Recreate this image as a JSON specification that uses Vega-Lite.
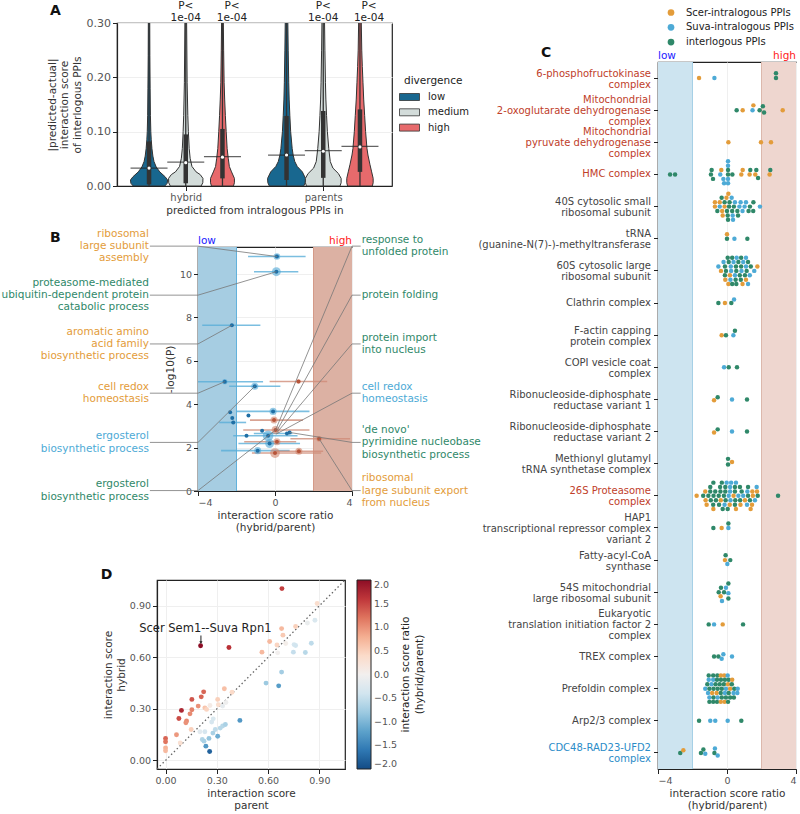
{
"$schema": "https://vega.github.io/schema/vega-lite/v6.json",
"background": "white",
"padding": {"left": 0, "top": 0, "right": 0, "bottom": 0},
"config": {
  "font": "DejaVu Sans",
  "view": {"stroke": "#222", "strokeWidth": 1.2},
  "axis": {"domainColor": "#222", "domainWidth": 1.2, "tickColor": "#222", "tickSize": 4.5, "labelColor": "#555", "labelFont": "DejaVu Sans", "labelFontSize": 9.5, "titleFont": "DejaVu Sans", "titleFontSize": 10.5, "titleFontWeight": "normal", "titleColor": "#333", "gridColor": "#efefef", "labelPadding": 2, "titlePadding": 3},
  "legend": {"labelFont": "DejaVu Sans", "titleFont": "DejaVu Sans", "titleFontWeight": "normal", "labelColor": "#222", "titleColor": "#222", "padding": 0},
  "text": {"font": "DejaVu Sans"}
},
"datasets": {
  "violin": [
    {"k":"HL","d":"low","v":0,"x1":-0.382,"x2":-0.152},{"k":"HL","d":"low","v":0.005,"x1":-0.399,"x2":-0.135},{"k":"HL","d":"low","v":0.011,"x1":-0.402,"x2":-0.132},{"k":"HL","d":"low","v":0.017,"x1":-0.384,"x2":-0.150},{"k":"HL","d":"low","v":0.026,"x1":-0.345,"x2":-0.189},{"k":"HL","d":"low","v":0.035,"x1":-0.319,"x2":-0.215},{"k":"HL","d":"low","v":0.045,"x1":-0.303,"x2":-0.231},{"k":"HL","d":"low","v":0.055,"x1":-0.295,"x2":-0.239},{"k":"HL","d":"low","v":0.069,"x1":-0.288,"x2":-0.246},{"k":"HL","d":"low","v":0.085,"x1":-0.283,"x2":-0.251},{"k":"HL","d":"low","v":0.1,"x1":-0.280,"x2":-0.254},{"k":"HL","d":"low","v":0.13,"x1":-0.277,"x2":-0.257},{"k":"HL","d":"low","v":0.18,"x1":-0.275,"x2":-0.259},{"k":"HL","d":"low","v":0.24,"x1":-0.273,"x2":-0.261},{"k":"HL","d":"low","v":0.31,"x1":-0.272,"x2":-0.262},
    {"k":"HM","d":"medium","v":0,"x1":-0.112,"x2":0.112},{"k":"HM","d":"medium","v":0.006,"x1":-0.124,"x2":0.124},{"k":"HM","d":"medium","v":0.014,"x1":-0.125,"x2":0.125},{"k":"HM","d":"medium","v":0.021,"x1":-0.105,"x2":0.105},{"k":"HM","d":"medium","v":0.026,"x1":-0.075,"x2":0.075},{"k":"HM","d":"medium","v":0.036,"x1":-0.045,"x2":0.045},{"k":"HM","d":"medium","v":0.051,"x1":-0.032,"x2":0.032},{"k":"HM","d":"medium","v":0.069,"x1":-0.025,"x2":0.025},{"k":"HM","d":"medium","v":0.1,"x1":-0.019,"x2":0.019},{"k":"HM","d":"medium","v":0.13,"x1":-0.015,"x2":0.015},{"k":"HM","d":"medium","v":0.19,"x1":-0.010,"x2":0.010},{"k":"HM","d":"medium","v":0.31,"x1":-0.006,"x2":0.006},
    {"k":"HH","d":"high","v":0,"x1":0.187,"x2":0.347},{"k":"HH","d":"high","v":0.006,"x1":0.180,"x2":0.354},{"k":"HH","d":"high","v":0.014,"x1":0.180,"x2":0.354},{"k":"HH","d":"high","v":0.026,"x1":0.201,"x2":0.333},{"k":"HH","d":"high","v":0.036,"x1":0.217,"x2":0.317},{"k":"HH","d":"high","v":0.051,"x1":0.225,"x2":0.309},{"k":"HH","d":"high","v":0.069,"x1":0.233,"x2":0.301},{"k":"HH","d":"high","v":0.1,"x1":0.240,"x2":0.294},{"k":"HH","d":"high","v":0.13,"x1":0.246,"x2":0.288},{"k":"HH","d":"high","v":0.16,"x1":0.251,"x2":0.283},{"k":"HH","d":"high","v":0.19,"x1":0.255,"x2":0.279},{"k":"HH","d":"high","v":0.25,"x1":0.2585,"x2":0.2755},{"k":"HH","d":"high","v":0.31,"x1":0.261,"x2":0.273},
    {"k":"PL","d":"low","v":0,"x1":0.608,"x2":0.858},{"k":"PL","d":"low","v":0.006,"x1":0.597,"x2":0.869},{"k":"PL","d":"low","v":0.014,"x1":0.595,"x2":0.871},{"k":"PL","d":"low","v":0.026,"x1":0.618,"x2":0.848},{"k":"PL","d":"low","v":0.036,"x1":0.655,"x2":0.811},{"k":"PL","d":"low","v":0.045,"x1":0.673,"x2":0.793},{"k":"PL","d":"low","v":0.057,"x1":0.685,"x2":0.781},{"k":"PL","d":"low","v":0.069,"x1":0.692,"x2":0.774},{"k":"PL","d":"low","v":0.1,"x1":0.703,"x2":0.763},{"k":"PL","d":"low","v":0.13,"x1":0.709,"x2":0.757},{"k":"PL","d":"low","v":0.16,"x1":0.714,"x2":0.752},{"k":"PL","d":"low","v":0.19,"x1":0.717,"x2":0.749},{"k":"PL","d":"low","v":0.25,"x1":0.721,"x2":0.745},{"k":"PL","d":"low","v":0.31,"x1":0.724,"x2":0.742},
    {"k":"PM","d":"medium","v":0,"x1":0.878,"x2":1.122},{"k":"PM","d":"medium","v":0.006,"x1":0.870,"x2":1.130},{"k":"PM","d":"medium","v":0.014,"x1":0.870,"x2":1.130},{"k":"PM","d":"medium","v":0.023,"x1":0.890,"x2":1.110},{"k":"PM","d":"medium","v":0.033,"x1":0.930,"x2":1.070},{"k":"PM","d":"medium","v":0.045,"x1":0.949,"x2":1.051},{"k":"PM","d":"medium","v":0.069,"x1":0.960,"x2":1.040},{"k":"PM","d":"medium","v":0.1,"x1":0.970,"x2":1.030},{"k":"PM","d":"medium","v":0.13,"x1":0.976,"x2":1.024},{"k":"PM","d":"medium","v":0.16,"x1":0.981,"x2":1.019},{"k":"PM","d":"medium","v":0.19,"x1":0.984,"x2":1.016},{"k":"PM","d":"medium","v":0.25,"x1":0.988,"x2":1.012},{"k":"PM","d":"medium","v":0.31,"x1":0.991,"x2":1.009},
    {"k":"PH","d":"high","v":0,"x1":1.177,"x2":1.357},{"k":"PH","d":"high","v":0.006,"x1":1.171,"x2":1.363},{"k":"PH","d":"high","v":0.014,"x1":1.171,"x2":1.363},{"k":"PH","d":"high","v":0.026,"x1":1.182,"x2":1.352},{"k":"PH","d":"high","v":0.039,"x1":1.194,"x2":1.340},{"k":"PH","d":"high","v":0.057,"x1":1.209,"x2":1.325},{"k":"PH","d":"high","v":0.069,"x1":1.216,"x2":1.318},{"k":"PH","d":"high","v":0.1,"x1":1.226,"x2":1.308},{"k":"PH","d":"high","v":0.13,"x1":1.233,"x2":1.301},{"k":"PH","d":"high","v":0.16,"x1":1.240,"x2":1.294},{"k":"PH","d":"high","v":0.19,"x1":1.245,"x2":1.289},{"k":"PH","d":"high","v":0.22,"x1":1.250,"x2":1.284},{"k":"PH","d":"high","v":0.25,"x1":1.254,"x2":1.280},{"k":"PH","d":"high","v":0.31,"x1":1.258,"x2":1.276}
  ],
  "abox": [
    {"k":"HL","c":-0.267,"q1":0.003,"q3":0.082,"med":0.033,"mean":0.033},
    {"k":"HM","c":0,"q1":0.005,"q3":0.095,"med":0.043,"mean":0.044},
    {"k":"HH","c":0.267,"q1":0.014,"q3":0.105,"med":0.053,"mean":0.054},
    {"k":"PL","c":0.733,"q1":0.011,"q3":0.129,"med":0.057,"mean":0.057},
    {"k":"PM","c":1.0,"q1":0.015,"q3":0.138,"med":0.064,"mean":0.065},
    {"k":"PH","c":1.267,"q1":0.026,"q3":0.141,"med":0.072,"mean":0.073}
  ],
  "bpts": [
    {"r":0.10,"lo":-1.40,"hi":1.59,"p":10.81,"d":"low","n":14},
    {"r":0.07,"lo":-1.09,"hi":1.21,"p":10.11,"d":"low","n":25},
    {"r":-2.24,"lo":-3.78,"hi":-0.76,"p":7.64,"d":"low","n":0},
    {"r":-2.61,"lo":-4.6,"hi":-0.62,"p":5.04,"d":"low","n":9},
    {"r":-1.05,"lo":-2.38,"hi":0.28,"p":4.83,"d":"low","n":16},
    {"r":1.22,"lo":-0.28,"hi":2.71,"p":5.05,"d":"high","n":7},
    {"r":-2.33,"lo":-2.33,"hi":-2.33,"p":3.63,"d":"low","n":0},
    {"r":-0.10,"lo":-2.0,"hi":1.79,"p":3.67,"d":"low","n":16},
    {"r":-1.38,"lo":-1.38,"hi":-1.38,"p":3.48,"d":"low","n":0},
    {"r":-2.22,"lo":-2.22,"hi":-2.22,"p":3.37,"d":"low","n":0},
    {"r":-2.17,"lo":-2.9,"hi":-1.5,"p":3.16,"d":"low","n":0},
    {"r":-0.05,"lo":-1.3,"hi":1.45,"p":3.27,"d":"high","n":16},
    {"r":0.03,"lo":-1.65,"hi":1.79,"p":2.81,"d":"high","n":20},
    {"r":-0.67,"lo":-0.67,"hi":-0.67,"p":2.78,"d":"low","n":0},
    {"r":-0.36,"lo":-2.17,"hi":1.17,"p":2.55,"d":"low","n":36},
    {"r":0.62,"lo":-1.1,"hi":0.9,"p":2.65,"d":"low","n":0},
    {"r":0.76,"lo":0.76,"hi":0.76,"p":2.70,"d":"low","n":0},
    {"r":2.29,"lo":0.8,"hi":3.9,"p":2.41,"d":"high","n":10},
    {"r":0.10,"lo":-1.6,"hi":1.1,"p":2.27,"d":"high","n":16},
    {"r":-0.28,"lo":-1.9,"hi":1.3,"p":2.19,"d":"low","n":25},
    {"r":-0.90,"lo":-2.8,"hi":0.76,"p":1.86,"d":"low","n":16},
    {"r":0.0,"lo":-1.2,"hi":2.4,"p":1.75,"d":"high","n":30},
    {"r":1.24,"lo":0.07,"hi":2.5,"p":1.83,"d":"high","n":16},
    {"r":-1.48,"lo":-1.48,"hi":-1.48,"p":2.55,"d":"low","n":0}
  ],
  "blines": [
    {"id":"L1","i":0,"x":-6.5,"y":11.29},{"id":"L1","i":1,"x":-4,"y":11.29},{"id":"L1","i":2,"x":0.10,"y":10.81},
    {"id":"L2","i":0,"x":-6.5,"y":9.03},{"id":"L2","i":1,"x":-4,"y":9.03},{"id":"L2","i":2,"x":0.07,"y":10.11},
    {"id":"L3","i":0,"x":-6.5,"y":6.78},{"id":"L3","i":1,"x":-4,"y":6.78},{"id":"L3","i":2,"x":-2.24,"y":7.64},
    {"id":"L4","i":0,"x":-6.5,"y":4.51},{"id":"L4","i":1,"x":-4,"y":4.51},{"id":"L4","i":2,"x":-2.61,"y":5.04},
    {"id":"L5","i":0,"x":-6.5,"y":2.24},{"id":"L5","i":1,"x":-4,"y":2.24},{"id":"L5","i":2,"x":-1.05,"y":4.83},
    {"id":"L6","i":0,"x":-6.5,"y":0.02},{"id":"L6","i":1,"x":-4,"y":0.02},{"id":"L6","i":2,"x":0.03,"y":2.81},
    {"id":"R1","i":0,"x":4.45,"y":11.29},{"id":"R1","i":1,"x":4,"y":11.29},{"id":"R1","i":2,"x":0.03,"y":2.81},
    {"id":"R2","i":0,"x":4.45,"y":9.03},{"id":"R2","i":1,"x":4,"y":9.03},{"id":"R2","i":2,"x":0.10,"y":2.78},
    {"id":"R3","i":0,"x":4.45,"y":6.78},{"id":"R3","i":1,"x":4,"y":6.78},{"id":"R3","i":2,"x":0.10,"y":2.70},
    {"id":"R4","i":0,"x":4.45,"y":4.51},{"id":"R4","i":1,"x":4,"y":4.51},{"id":"R4","i":2,"x":0.05,"y":2.62},
    {"id":"R5","i":0,"x":4.45,"y":2.24},{"id":"R5","i":1,"x":4,"y":2.24},{"id":"R5","i":2,"x":0.76,"y":2.70},
    {"id":"R6","i":0,"x":4.45,"y":0.02},{"id":"R6","i":1,"x":4,"y":0.02},{"id":"R6","i":2,"x":2.29,"y":2.41}
  ],
  "blabL": [
    {"s":"ribosomal\nlarge subunit\nassembly","y":11.29,"t":"S"},
    {"s":"proteasome-mediated\nubiquitin-dependent protein\ncatabolic process","y":9.03,"t":"I"},
    {"s":"aromatic amino\nacid family\nbiosynthetic process","y":6.78,"t":"S"},
    {"s":"cell redox\nhomeostasis","y":4.51,"t":"S"},
    {"s":"ergosterol\nbiosynthetic process","y":2.24,"t":"V"},
    {"s":"ergosterol\nbiosynthetic process","y":0.02,"t":"I"}
  ],
  "blabR": [
    {"s":"response to\nunfolded protein","y":11.29,"t":"I"},
    {"s":"protein folding","y":9.03,"t":"I"},
    {"s":"protein import\ninto nucleus","y":6.78,"t":"I"},
    {"s":"cell redox\nhomeostasis","y":4.51,"t":"V"},
    {"s":"'de novo'\npyrimidine nucleobase\nbiosynthetic process","y":2.24,"t":"I"},
    {"s":"ribosomal\nlarge subunit export\nfrom nucleus","y":0.02,"t":"S"}
  ],
  "cpts": [
    {"c":1,"v":-1.62,"t":"S","o":0},{"c":1,"v":-0.73,"t":"V","o":0},{"c":1,"v":2.84,"t":"I","o":-1.1},{"c":1,"v":2.84,"t":"I","o":0},
    {"c":2,"v":0.56,"t":"I","o":0},{"c":2,"v":0.91,"t":"S","o":0},{"c":2,"v":1.48,"t":"V","o":0},{"c":2,"v":1.53,"t":"S","o":-1.1},{"c":2,"v":1.89,"t":"I","o":0},{"c":2,"v":2.08,"t":"I","o":-0.9},{"c":2,"v":2.15,"t":"I","o":0.5},{"c":2,"v":3.23,"t":"S","o":0},
    {"c":3,"v":0.08,"t":"S","o":0},{"c":3,"v":1.97,"t":"S","o":0},{"c":3,"v":2.55,"t":"S","o":0},
    {"c":4,"v":-3.30,"t":"I","o":0},{"c":4,"v":-3.01,"t":"I","o":0},{"c":4,"v":-0.89,"t":"I","o":-1},{"c":4,"v":-0.93,"t":"I","o":0},{"c":4,"v":-0.81,"t":"I","o":1},{"c":4,"v":-0.33,"t":"S","o":-1},{"c":4,"v":-0.39,"t":"V","o":0},{"c":4,"v":-0.21,"t":"V","o":1},{"c":4,"v":-0.17,"t":"V","o":2},{"c":4,"v":0.06,"t":"V","o":-3},{"c":4,"v":0.06,"t":"V","o":-2},{"c":4,"v":0.06,"t":"I","o":-1},{"c":4,"v":0.06,"t":"I","o":0},{"c":4,"v":0.06,"t":"V","o":1},{"c":4,"v":0.06,"t":"V","o":2},{"c":4,"v":0.31,"t":"I","o":0},{"c":4,"v":0.83,"t":"S","o":0},{"c":4,"v":0.91,"t":"S","o":-1},{"c":4,"v":1.35,"t":"I","o":-1},{"c":4,"v":1.31,"t":"S","o":0},{"c":4,"v":1.70,"t":"I","o":-1},{"c":4,"v":1.64,"t":"S","o":0},{"c":4,"v":1.80,"t":"I","o":0.8},{"c":4,"v":2.51,"t":"I","o":-1},{"c":4,"v":2.47,"t":"S","o":0},
    {"c":5,"v":0.08,"t":"S","o":-2.9},
    {"c":5,"v":-0.31,"t":"I","o":-2},{"c":5,"v":-0.03,"t":"S","o":-2},{"c":5,"v":0.27,"t":"V","o":-2},
    {"c":5,"v":-0.70,"t":"S","o":-1},{"c":5,"v":-0.42,"t":"S","o":-1},{"c":5,"v":-0.14,"t":"I","o":-1},{"c":5,"v":0.15,"t":"I","o":-1},{"c":5,"v":0.46,"t":"V","o":-1},{"c":5,"v":0.79,"t":"V","o":-1},{"c":5,"v":1.10,"t":"V","o":-1},{"c":5,"v":1.53,"t":"I","o":-1},
    {"c":5,"v":-0.70,"t":"S","o":0},{"c":5,"v":-0.42,"t":"V","o":0},{"c":5,"v":-0.14,"t":"S","o":0},{"c":5,"v":0.12,"t":"I","o":0},{"c":5,"v":0.40,"t":"I","o":0},{"c":5,"v":0.72,"t":"V","o":0},{"c":5,"v":1.02,"t":"V","o":0},{"c":5,"v":1.33,"t":"I","o":0},{"c":5,"v":1.91,"t":"V","o":0},
    {"c":5,"v":-0.56,"t":"I","o":1},{"c":5,"v":-0.28,"t":"S","o":1},{"c":5,"v":0.0,"t":"I","o":1},{"c":5,"v":0.30,"t":"I","o":1},{"c":5,"v":0.60,"t":"I","o":1},{"c":5,"v":0.90,"t":"V","o":1},{"c":5,"v":1.25,"t":"I","o":1},{"c":5,"v":1.52,"t":"I","o":1},
    {"c":5,"v":-0.25,"t":"S","o":2},{"c":5,"v":0.04,"t":"I","o":2},{"c":5,"v":0.33,"t":"V","o":2},{"c":5,"v":0.64,"t":"I","o":2},
    {"c":5,"v":0.06,"t":"I","o":3},{"c":5,"v":0.35,"t":"V","o":3},
    {"c":6,"v":0.0,"t":"S","o":-1},{"c":6,"v":0.0,"t":"I","o":0},{"c":6,"v":0.43,"t":"V","o":0},{"c":6,"v":1.18,"t":"I","o":0},
    {"c":7,"v":0.04,"t":"I","o":-3},{"c":7,"v":0.30,"t":"I","o":-3},{"c":7,"v":0.56,"t":"V","o":-3},{"c":7,"v":0.82,"t":"I","o":-3},{"c":7,"v":1.10,"t":"V","o":-3},
    {"c":7,"v":-0.20,"t":"V","o":-2},{"c":7,"v":0.10,"t":"I","o":-2},{"c":7,"v":0.38,"t":"V","o":-2},{"c":7,"v":0.66,"t":"I","o":-2},{"c":7,"v":0.94,"t":"V","o":-2},{"c":7,"v":1.22,"t":"I","o":-2},
    {"c":7,"v":-0.50,"t":"V","o":-1},{"c":7,"v":-0.12,"t":"I","o":-1},{"c":7,"v":0.22,"t":"V","o":-1},{"c":7,"v":0.52,"t":"I","o":-1},{"c":7,"v":0.82,"t":"I","o":-1},{"c":7,"v":1.10,"t":"V","o":-1},{"c":7,"v":1.38,"t":"I","o":-1},{"c":7,"v":1.76,"t":"S","o":-1},
    {"c":7,"v":-0.35,"t":"S","o":0},{"c":7,"v":-0.06,"t":"I","o":0},{"c":7,"v":0.24,"t":"V","o":0},{"c":7,"v":0.54,"t":"I","o":0},{"c":7,"v":0.84,"t":"V","o":0},{"c":7,"v":1.14,"t":"I","o":0},{"c":7,"v":1.58,"t":"V","o":0},
    {"c":7,"v":-0.12,"t":"I","o":1},{"c":7,"v":0.17,"t":"S","o":1},{"c":7,"v":0.46,"t":"V","o":1},{"c":7,"v":0.74,"t":"I","o":1},{"c":7,"v":1.04,"t":"I","o":1},{"c":7,"v":1.32,"t":"V","o":1},
    {"c":7,"v":-0.10,"t":"S","o":2},{"c":7,"v":0.20,"t":"V","o":2},{"c":7,"v":0.50,"t":"I","o":2},{"c":7,"v":0.80,"t":"I","o":2},{"c":7,"v":1.10,"t":"S","o":2},
    {"c":7,"v":0.08,"t":"S","o":3},{"c":7,"v":0.30,"t":"I","o":3},{"c":7,"v":0.54,"t":"I","o":3},{"c":7,"v":0.90,"t":"S","o":3},{"c":7,"v":1.22,"t":"V","o":3},
    {"c":8,"v":-0.50,"t":"I","o":0},{"c":8,"v":-0.12,"t":"S","o":0},{"c":8,"v":0.25,"t":"I","o":0},{"c":8,"v":0.41,"t":"V","o":-0.8},
    {"c":9,"v":-0.31,"t":"S","o":0},{"c":9,"v":-0.06,"t":"I","o":0},{"c":9,"v":0.37,"t":"V","o":0},{"c":9,"v":0.46,"t":"I","o":-1},
    {"c":10,"v":-0.17,"t":"V","o":0},{"c":10,"v":0.10,"t":"I","o":0},{"c":10,"v":0.58,"t":"I","o":0},
    {"c":11,"v":-0.75,"t":"S","o":0.2},{"c":11,"v":-0.54,"t":"I","o":-0.5},{"c":11,"v":0.29,"t":"V","o":0},{"c":11,"v":1.16,"t":"I","o":0},
    {"c":12,"v":-0.75,"t":"S","o":0.2},{"c":12,"v":-0.54,"t":"I","o":-0.5},{"c":12,"v":0.29,"t":"V","o":0},{"c":12,"v":1.16,"t":"I","o":0},
    {"c":13,"v":0.06,"t":"I","o":-1.1},{"c":13,"v":0.06,"t":"I","o":0.2},{"c":13,"v":0.29,"t":"S","o":-0.4},
    {"c":14,"v":-0.79,"t":"I","o":-3},{"c":14,"v":-0.30,"t":"I","o":-3},{"c":14,"v":-0.02,"t":"V","o":-3},{"c":14,"v":0.24,"t":"V","o":-3},{"c":14,"v":0.52,"t":"V","o":-3},
    {"c":14,"v":-0.97,"t":"I","o":-2},{"c":14,"v":-0.40,"t":"I","o":-2},{"c":14,"v":-0.10,"t":"I","o":-2},{"c":14,"v":0.18,"t":"V","o":-2},{"c":14,"v":0.46,"t":"I","o":-2},{"c":14,"v":0.75,"t":"I","o":-2},{"c":14,"v":1.22,"t":"I","o":-2},{"c":14,"v":1.72,"t":"V","o":-2},
    {"c":14,"v":-1.26,"t":"S","o":-1},{"c":14,"v":-0.97,"t":"I","o":-1},{"c":14,"v":-0.68,"t":"I","o":-1},{"c":14,"v":-0.38,"t":"I","o":-1},{"c":14,"v":-0.10,"t":"I","o":-1},{"c":14,"v":0.18,"t":"V","o":-1},{"c":14,"v":0.46,"t":"I","o":-1},{"c":14,"v":0.85,"t":"I","o":-1},{"c":14,"v":1.18,"t":"V","o":-1},{"c":14,"v":1.47,"t":"S","o":-1},{"c":14,"v":1.74,"t":"S","o":-1},
    {"c":14,"v":-1.76,"t":"S","o":0},{"c":14,"v":-1.38,"t":"I","o":0},{"c":14,"v":-1.08,"t":"I","o":0},{"c":14,"v":-0.78,"t":"I","o":0},{"c":14,"v":-0.48,"t":"I","o":0},{"c":14,"v":-0.18,"t":"I","o":0},{"c":14,"v":0.10,"t":"V","o":0},{"c":14,"v":0.38,"t":"S","o":0},{"c":14,"v":0.66,"t":"V","o":0},{"c":14,"v":0.94,"t":"V","o":0},{"c":14,"v":1.22,"t":"I","o":0},{"c":14,"v":1.50,"t":"S","o":0},{"c":14,"v":1.78,"t":"I","o":0},{"c":14,"v":2.96,"t":"I","o":0},
    {"c":14,"v":-1.24,"t":"S","o":1},{"c":14,"v":-0.94,"t":"I","o":1},{"c":14,"v":-0.64,"t":"I","o":1},{"c":14,"v":-0.36,"t":"S","o":1},{"c":14,"v":-0.08,"t":"I","o":1},{"c":14,"v":0.20,"t":"V","o":1},{"c":14,"v":0.48,"t":"I","o":1},{"c":14,"v":0.76,"t":"I","o":1},{"c":14,"v":1.04,"t":"S","o":1},{"c":14,"v":1.33,"t":"I","o":1},{"c":14,"v":1.62,"t":"V","o":1},
    {"c":14,"v":-1.18,"t":"S","o":2},{"c":14,"v":-0.80,"t":"I","o":2},{"c":14,"v":-0.46,"t":"I","o":2},{"c":14,"v":-0.14,"t":"V","o":2},{"c":14,"v":0.16,"t":"S","o":2},{"c":14,"v":0.46,"t":"I","o":2},{"c":14,"v":0.78,"t":"S","o":2},{"c":14,"v":1.16,"t":"V","o":2},{"c":14,"v":1.45,"t":"S","o":2},
    {"c":14,"v":-0.79,"t":"S","o":3},{"c":14,"v":-0.25,"t":"I","o":3},{"c":14,"v":0.04,"t":"I","o":3},{"c":14,"v":0.52,"t":"S","o":3},{"c":14,"v":1.37,"t":"S","o":3},
    {"c":15,"v":-0.79,"t":"I","o":0},{"c":15,"v":-0.31,"t":"S","o":0},{"c":15,"v":0.08,"t":"V","o":0},{"c":15,"v":0.08,"t":"I","o":-1},
    {"c":16,"v":-0.08,"t":"I","o":-1.1},{"c":16,"v":-0.12,"t":"S","o":0},{"c":16,"v":0.19,"t":"I","o":0},{"c":16,"v":0.02,"t":"V","o":0.9},
    {"c":17,"v":0.08,"t":"I","o":-2},{"c":17,"v":-0.06,"t":"V","o":-1},{"c":17,"v":-0.35,"t":"I","o":-1},{"c":17,"v":-0.48,"t":"I","o":0},{"c":17,"v":-0.17,"t":"I","o":0},{"c":17,"v":0.08,"t":"V","o":0.2},{"c":17,"v":-0.37,"t":"S","o":0.9},{"c":17,"v":0.08,"t":"I","o":1.4},{"c":17,"v":-0.29,"t":"V","o":2},
    {"c":18,"v":-1.06,"t":"I","o":0},{"c":18,"v":-0.75,"t":"V","o":0},{"c":18,"v":-0.25,"t":"S","o":0},{"c":18,"v":0.93,"t":"I","o":0},
    {"c":19,"v":-0.75,"t":"I","o":0},{"c":19,"v":-0.50,"t":"I","o":0},{"c":19,"v":-0.21,"t":"V","o":-0.5},{"c":19,"v":-0.31,"t":"V","o":0.5},{"c":19,"v":0.29,"t":"V","o":0},
    {"c":20,"v":-1.06,"t":"I","o":-3},{"c":20,"v":-0.80,"t":"I","o":-3},{"c":20,"v":-0.56,"t":"I","o":-3},{"c":20,"v":-0.36,"t":"S","o":-3},{"c":20,"v":-0.16,"t":"S","o":-3},{"c":20,"v":0.04,"t":"V","o":-3},
    {"c":20,"v":-1.06,"t":"V","o":-2},{"c":20,"v":-0.80,"t":"V","o":-2},{"c":20,"v":-0.58,"t":"I","o":-2},{"c":20,"v":-0.35,"t":"I","o":-2},{"c":20,"v":-0.12,"t":"I","o":-2},{"c":20,"v":0.10,"t":"I","o":-2},{"c":20,"v":0.30,"t":"S","o":-2},
    {"c":20,"v":-1.14,"t":"I","o":-1},{"c":20,"v":-0.90,"t":"V","o":-1},{"c":20,"v":-0.66,"t":"I","o":-1},{"c":20,"v":-0.42,"t":"I","o":-1},{"c":20,"v":-0.18,"t":"I","o":-1},{"c":20,"v":0.06,"t":"S","o":-1},{"c":20,"v":0.28,"t":"I","o":-1},
    {"c":20,"v":-1.26,"t":"V","o":0},{"c":20,"v":-1.02,"t":"I","o":0},{"c":20,"v":-0.78,"t":"I","o":0},{"c":20,"v":-0.54,"t":"I","o":0},{"c":20,"v":-0.30,"t":"I","o":0},{"c":20,"v":-0.06,"t":"V","o":0},{"c":20,"v":0.18,"t":"S","o":0},{"c":20,"v":0.42,"t":"I","o":0},{"c":20,"v":0.62,"t":"V","o":0},
    {"c":20,"v":-1.10,"t":"V","o":1},{"c":20,"v":-0.86,"t":"S","o":1},{"c":20,"v":-0.60,"t":"S","o":1},{"c":20,"v":-0.36,"t":"I","o":1},{"c":20,"v":-0.12,"t":"V","o":1},{"c":20,"v":0.10,"t":"I","o":1},{"c":20,"v":0.38,"t":"V","o":1},{"c":20,"v":0.60,"t":"V","o":1},
    {"c":20,"v":-1.02,"t":"V","o":2},{"c":20,"v":-0.78,"t":"I","o":2},{"c":20,"v":-0.54,"t":"V","o":2},{"c":20,"v":-0.30,"t":"I","o":2},{"c":20,"v":-0.06,"t":"I","o":2},{"c":20,"v":0.18,"t":"I","o":2},{"c":20,"v":0.40,"t":"I","o":2},
    {"c":20,"v":-1.02,"t":"I","o":3},{"c":20,"v":-0.80,"t":"I","o":3},{"c":20,"v":-0.58,"t":"I","o":3},{"c":20,"v":-0.36,"t":"S","o":3},{"c":20,"v":-0.14,"t":"S","o":3},{"c":20,"v":0.06,"t":"I","o":3},
    {"c":21,"v":-1.62,"t":"I","o":0},{"c":21,"v":-0.97,"t":"V","o":0},{"c":21,"v":-0.68,"t":"V","o":0},{"c":21,"v":0.04,"t":"V","o":0},{"c":21,"v":0.83,"t":"I","o":0},
    {"c":22,"v":-2.71,"t":"I","o":0},{"c":22,"v":-2.53,"t":"S","o":-0.6},{"c":22,"v":-1.51,"t":"I","o":0},{"c":22,"v":-1.37,"t":"I","o":-0.8},{"c":22,"v":-1.26,"t":"V","o":0.2},{"c":22,"v":-0.70,"t":"V","o":-1},{"c":22,"v":-0.73,"t":"I","o":0},{"c":22,"v":-0.54,"t":"V","o":0.6}
  ],
  "dpts": [
    {"px":0.681,"hy":1.000,"rr":1.55},{"px":0.887,"hy":0.913,"rr":0.35},{"px":0.874,"hy":0.816,"rr":-0.3},{"px":0.83,"hy":0.80,"rr":-0.1},{"px":0.761,"hy":0.779,"rr":0.5},{"px":0.679,"hy":0.767,"rr":0.7},{"px":0.687,"hy":0.729,"rr":0.55},{"px":0.205,"hy":0.667,"rr":2.0},{"px":0.371,"hy":0.657,"rr":1.65},{"px":0.609,"hy":0.692,"rr":0.7},{"px":0.652,"hy":0.672,"rr":0.45},{"px":0.703,"hy":0.680,"rr":0.05},{"px":0.752,"hy":0.674,"rr":-0.35},{"px":0.761,"hy":0.669,"rr":-0.4},{"px":0.853,"hy":0.682,"rr":-0.55},{"px":0.564,"hy":0.630,"rr":0.7},{"px":0.656,"hy":0.626,"rr":0.0},{"px":0.748,"hy":0.630,"rr":-0.5},{"px":0.818,"hy":0.628,"rr":-0.6},{"px":0.679,"hy":0.514,"rr":-0.75},{"px":0.588,"hy":0.450,"rr":-0.8},{"px":0.662,"hy":0.434,"rr":-1.25},{"px":0.223,"hy":0.399,"rr":1.3},{"px":0.209,"hy":0.370,"rr":1.3},{"px":0.344,"hy":0.417,"rr":0.65},{"px":0.389,"hy":0.397,"rr":0.4},{"px":0.154,"hy":0.355,"rr":1.4},{"px":0.191,"hy":0.316,"rr":1.0},{"px":0.093,"hy":0.291,"rr":1.75},{"px":0.154,"hy":0.295,"rr":1.1},{"px":0.143,"hy":0.271,"rr":1.05},{"px":0.078,"hy":0.244,"rr":1.45},{"px":0.123,"hy":0.229,"rr":1.05},{"px":0.119,"hy":0.219,"rr":1.0},{"px":0.064,"hy":0.149,"rr":0.95},{"px":0.0,"hy":0.128,"rr":1.3},{"px":0.0,"hy":0.109,"rr":1.2},{"px":0.0,"hy":0.072,"rr":0.75},{"px":0.0,"hy":0.056,"rr":0.7},{"px":0.150,"hy":0.180,"rr":0.5},{"px":0.086,"hy":0.101,"rr":0.3},{"px":0.23,"hy":0.306,"rr":0.6},{"px":0.24,"hy":0.297,"rr":0.45},{"px":0.305,"hy":0.355,"rr":0.5},{"px":0.309,"hy":0.324,"rr":0.35},{"px":0.334,"hy":0.316,"rr":-0.15},{"px":0.353,"hy":0.337,"rr":-0.05},{"px":0.26,"hy":0.32,"rr":0.1},{"px":0.279,"hy":0.242,"rr":-0.3},{"px":0.27,"hy":0.223,"rr":-0.35},{"px":0.201,"hy":0.167,"rr":-0.2},{"px":0.23,"hy":0.167,"rr":-0.35},{"px":0.291,"hy":0.180,"rr":-0.55},{"px":0.32,"hy":0.188,"rr":-0.6},{"px":0.334,"hy":0.200,"rr":-0.6},{"px":0.35,"hy":0.209,"rr":-0.7},{"px":0.277,"hy":0.159,"rr":-0.7},{"px":0.254,"hy":0.128,"rr":-0.85},{"px":0.215,"hy":0.122,"rr":-0.65},{"px":0.225,"hy":0.112,"rr":-0.7},{"px":0.305,"hy":0.141,"rr":-1.1},{"px":0.236,"hy":0.083,"rr":-1.3},{"px":0.258,"hy":0.052,"rr":-1.8},{"px":0.435,"hy":0.233,"rr":-1.3}
  ]
},
"spacing": -5,
"resolve": {"scale": {"color": "independent", "fill": "independent", "size": "independent"}},
"hconcat": [
  {
    "spacing": 0,
    "resolve": {"scale": {"color": "independent", "fill": "independent", "size": "independent"}},
    "vconcat": [
      {
        "spacing": 0, "bounds": "flush",
        "resolve": {"scale": {"color": "independent", "fill": "independent", "size": "independent"}},
        "hconcat": [
          {"width": 117, "height": 205, "data": {"values": [{}]}, "mark": {"type": "point", "opacity": 0}, "view": {"stroke": null}},
          {
            "width": 275, "height": 163,
            "layer": [
              {"data": {"name": "violin"},
               "mark": {"type": "area", "orient": "horizontal", "stroke": "#333", "strokeWidth": 1, "clip": true},
               "encoding": {
                 "y": {"field": "v", "type": "quantitative", "scale": {"domain": [0, 0.3], "nice": false},
                       "axis": {"values": [0, 0.05, 0.1, 0.15, 0.2, 0.25, 0.3], "format": ".2f", "labelFontSize": 11, "grid": true, "titlePadding": 4,
                                "title": ["|predicted-actual|", "interaction score", "of interlogous PPIs"]}},
                 "x": {"field": "x1", "type": "quantitative", "scale": {"domain": [-0.5, 1.5], "nice": false, "padding": 0},
                       "axis": {"values": [0, 1], "labelExpr": "datum.value == 0 ? 'hybrid' : 'parents'", "grid": false, "labelFontSize": 10, "title": "predicted from intralogous PPIs in"}},
                 "x2": {"field": "x2"},
                 "fill": {"field": "d", "type": "nominal", "scale": {"domain": ["low", "medium", "high"], "range": ["#18678f", "#d3dcda", "#e76a6c"]},
                          "legend": {"orient": "none", "legendX": 287, "legendY": 53, "title": "divergence", "titleFontSize": 10.5, "titlePadding": 5, "labelFontSize": 10, "symbolType": "M-2,-0.7L2,-0.7L2,0.7L-2,0.7Z", "symbolSize": 100, "symbolStrokeColor": "#333", "symbolStrokeWidth": 0.8, "symbolOpacity": 1, "rowPadding": 4.3, "labelOffset": 13}},
                 "detail": {"field": "k"}
               }},
              {"data": {"name": "abox"}, "mark": {"type": "rule", "color": "#333", "strokeWidth": 1.3, "clip": true},
               "encoding": {"x": {"field": "c", "type": "quantitative"}, "y": {"datum": 0}, "y2": {"datum": 0.31}}},
              {"data": {"name": "abox"}, "mark": {"type": "rule", "color": "#333", "strokeWidth": 4.5},
               "encoding": {"x": {"field": "c", "type": "quantitative"}, "y": {"field": "q1", "type": "quantitative"}, "y2": {"field": "q3"}}},
              {"data": {"name": "abox"}, "mark": {"type": "tick", "orient": "horizontal", "size": 37, "thickness": 1.2, "color": "#222"},
               "encoding": {"x": {"field": "c", "type": "quantitative"}, "y": {"field": "mean", "type": "quantitative"}}},
              {"data": {"name": "abox"}, "mark": {"type": "circle", "color": "white", "size": 10, "opacity": 1},
               "encoding": {"x": {"field": "c", "type": "quantitative"}, "y": {"field": "med", "type": "quantitative"}}},
              {"data": {"values": [{"x": 0, "s": "P<\n1e-04"}, {"x": 0.336, "s": "P<\n1e-04"}, {"x": 1.0, "s": "P<\n1e-04"}, {"x": 1.333, "s": "P<\n1e-04"}]},
               "mark": {"type": "text", "baseline": "bottom", "lineBreak": "\n", "fontSize": 10.5, "lineHeight": 12, "dy": -12, "color": "#222"},
               "encoding": {"x": {"field": "x", "type": "quantitative"}, "y": {"datum": 0.3}, "text": {"field": "s"}}},
              {"data": {"values": [{"x": -0.987, "y": 0.3147, "s": "A"}]},
               "mark": {"type": "text", "align": "left", "baseline": "alphabetic", "fontSize": 14, "fontWeight": "bold", "color": "#111"},
               "encoding": {"x": {"field": "x", "type": "quantitative"}, "y": {"field": "y", "type": "quantitative"}, "text": {"field": "s"}}}
            ]
          }
        ]
      },
      {
        "spacing": 0, "bounds": "flush",
        "resolve": {"scale": {"color": "independent", "fill": "independent", "size": "independent"}},
        "hconcat": [
          {"width": 198, "height": 320, "data": {"values": [{}]}, "mark": {"type": "point", "opacity": 0}, "view": {"stroke": null}},
          {
            "width": 154, "height": 244,
            "layer": [
              {"data": {"values": [{"a": -4, "b": -2}]}, "mark": {"type": "rect", "color": "#a6cde2"},
               "encoding": {"x": {"field": "a", "type": "quantitative", "scale": {"domain": [-4, 4], "nice": false},
                                  "axis": {"values": [-4, -2, 0, 2, 4], "grid": true, "title": ["interaction score ratio", "(hybrid/parent)"]}},
                            "x2": {"field": "b"}}},
              {"data": {"values": [{"a": 2, "b": 4}]}, "mark": {"type": "rect", "color": "#dcb1a3"},
               "encoding": {"x": {"field": "a", "type": "quantitative"}, "x2": {"field": "b"}}},
              {"data": {"values": [{"a": -2}]}, "mark": {"type": "rule", "color": "#62b2dc", "strokeWidth": 1},
               "encoding": {"x": {"field": "a", "type": "quantitative"}}},
              {"data": {"values": [{"a": 2}]}, "mark": {"type": "rule", "color": "#d49a88", "strokeWidth": 1},
               "encoding": {"x": {"field": "a", "type": "quantitative"}}},
              {"data": {"name": "bpts"}, "mark": {"type": "rule", "strokeWidth": 1.6, "opacity": 0.8, "clip": true},
               "encoding": {"x": {"field": "lo", "type": "quantitative"}, "x2": {"field": "hi"},
                            "y": {"field": "p", "type": "quantitative", "scale": {"domain": [0, 11.25], "nice": false},
                                  "axis": {"values": [0, 2, 4, 6, 8, 10], "grid": true, "title": "-log10(P)", "titlePadding": 4}},
                            "color": {"condition": {"test": "datum.d == 'low'", "value": "#5aaed8"}, "value": "#cf8c78"}}},
              {"data": {"name": "bpts"}, "transform": [{"filter": "datum.n > 0"}], "mark": {"type": "circle", "opacity": 0.6},
               "encoding": {"x": {"field": "r", "type": "quantitative"}, "y": {"field": "p", "type": "quantitative"},
                            "size": {"field": "n", "type": "quantitative", "scale": {"domain": [0, 100], "range": [0, 314], "nice": false}, "legend": null},
                            "color": {"condition": {"test": "datum.d == 'low'", "value": "#4ea7d6"}, "value": "#d0836b"}}},
              {"data": {"name": "bpts"}, "mark": {"type": "circle", "size": 16, "opacity": 1},
               "encoding": {"x": {"field": "r", "type": "quantitative"}, "y": {"field": "p", "type": "quantitative"},
                            "color": {"condition": {"test": "datum.d == 'low'", "value": "#1f6fa5"}, "value": "#b7553a"}}},
              {"data": {"name": "blines"}, "mark": {"type": "line", "color": "#777", "strokeWidth": 0.8},
               "encoding": {"x": {"field": "x", "type": "quantitative"}, "y": {"field": "y", "type": "quantitative"}, "detail": {"field": "id"}, "order": {"field": "i"}}},
              {"data": {"name": "blabL"}, "transform": [{"filter": "length(split(datum.s, '\\n')) == 3"}],
               "mark": {"type": "text", "align": "right", "baseline": "middle", "lineBreak": "\n", "fontSize": 10.5, "lineHeight": 12.2, "dy": -12.2},
               "encoding": {"x": {"datum": -6.55}, "y": {"field": "y", "type": "quantitative"}, "text": {"field": "s"},
                            "color": {"condition": [{"test": "datum.t == 'S'", "value": "#E39C3A"}, {"test": "datum.t == 'V'", "value": "#4DAAD6"}], "value": "#2F8869"}}},
              {"data": {"name": "blabL"}, "transform": [{"filter": "length(split(datum.s, '\\n')) == 2"}],
               "mark": {"type": "text", "align": "right", "baseline": "middle", "lineBreak": "\n", "fontSize": 10.5, "lineHeight": 12.2, "dy": -6.1},
               "encoding": {"x": {"datum": -6.55}, "y": {"field": "y", "type": "quantitative"}, "text": {"field": "s"},
                            "color": {"condition": [{"test": "datum.t == 'S'", "value": "#E39C3A"}, {"test": "datum.t == 'V'", "value": "#4DAAD6"}], "value": "#2F8869"}}},
              {"data": {"name": "blabR"}, "transform": [{"filter": "length(split(datum.s, '\\n')) == 3"}],
               "mark": {"type": "text", "align": "left", "baseline": "middle", "lineBreak": "\n", "fontSize": 10.5, "lineHeight": 12.2, "dy": -12.2},
               "encoding": {"x": {"datum": 4.5}, "y": {"field": "y", "type": "quantitative"}, "text": {"field": "s"},
                            "color": {"condition": [{"test": "datum.t == 'S'", "value": "#E39C3A"}, {"test": "datum.t == 'V'", "value": "#4DAAD6"}], "value": "#2F8869"}}},
              {"data": {"name": "blabR"}, "transform": [{"filter": "length(split(datum.s, '\\n')) == 2"}],
               "mark": {"type": "text", "align": "left", "baseline": "middle", "lineBreak": "\n", "fontSize": 10.5, "lineHeight": 12.2, "dy": -6.1},
               "encoding": {"x": {"datum": 4.5}, "y": {"field": "y", "type": "quantitative"}, "text": {"field": "s"},
                            "color": {"condition": [{"test": "datum.t == 'S'", "value": "#E39C3A"}, {"test": "datum.t == 'V'", "value": "#4DAAD6"}], "value": "#2F8869"}}},
              {"data": {"name": "blabR"}, "transform": [{"filter": "length(split(datum.s, '\\n')) == 1"}],
               "mark": {"type": "text", "align": "left", "baseline": "middle", "lineBreak": "\n", "fontSize": 10.5, "lineHeight": 12.2},
               "encoding": {"x": {"datum": 4.5}, "y": {"field": "y", "type": "quantitative"}, "text": {"field": "s"},
                            "color": {"condition": [{"test": "datum.t == 'S'", "value": "#E39C3A"}, {"test": "datum.t == 'V'", "value": "#4DAAD6"}], "value": "#2F8869"}}},
              {"data": {"values": [{"s": "low"}]}, "mark": {"type": "text", "align": "left", "baseline": "alphabetic", "dy": -3, "fontSize": 10.5, "color": "#1a1aff"},
               "encoding": {"x": {"datum": -4}, "y": {"datum": 11.25}, "text": {"field": "s"}}},
              {"data": {"values": [{"s": "high"}]}, "mark": {"type": "text", "align": "right", "baseline": "alphabetic", "dy": -3, "fontSize": 10.5, "color": "#ff1a1a"},
               "encoding": {"x": {"datum": 4}, "y": {"datum": 11.25}, "text": {"field": "s"}}},
              {"data": {"values": [{"x": -11.69, "y": 11.47, "s": "B"}]},
               "mark": {"type": "text", "align": "left", "baseline": "alphabetic", "fontSize": 14, "fontWeight": "bold", "color": "#111"},
               "encoding": {"x": {"field": "x", "type": "quantitative"}, "y": {"field": "y", "type": "quantitative"}, "text": {"field": "s"}}}
            ]
          }
        ]
      },
      {
        "spacing": 0, "bounds": "flush",
        "resolve": {"scale": {"color": "independent", "fill": "independent", "size": "independent"}},
        "hconcat": [
          {"width": 157, "height": 1, "data": {"values": [{}]}, "mark": {"type": "point", "opacity": 0}, "view": {"stroke": null}},
          {
            "width": 188, "height": 189,
            "layer": [
              {"data": {"values": [{"a": -0.05, "b": 1.05}]}, "mark": {"type": "rule", "color": "#666", "strokeDash": [1.5, 2.5], "strokeWidth": 1.3},
               "encoding": {"x": {"field": "a", "type": "quantitative", "scale": {"domain": [-0.05, 1.05], "nice": false},
                                  "axis": {"values": [0, 0.3, 0.6, 0.9], "format": ".2f", "grid": true, "title": ["interaction score", "parent"]}},
                            "y": {"field": "a", "type": "quantitative", "scale": {"domain": [-0.05, 1.05], "nice": false},
                                  "axis": {"values": [0, 0.3, 0.6, 0.9], "format": ".2f", "grid": true, "title": ["interaction score", "hybrid"]}},
                            "x2": {"field": "b"}, "y2": {"field": "b"}}},
              {"data": {"name": "dpts"}, "mark": {"type": "circle", "size": 24, "opacity": 1},
               "encoding": {"x": {"field": "px", "type": "quantitative"}, "y": {"field": "hy", "type": "quantitative"},
                            "color": {"field": "rr", "type": "quantitative", "scale": {"domain": [-2, 2], "nice": false, "scheme": "redblue", "reverse": true},
                                      "legend": {"orient": "right", "offset": 12, "gradientLength": 189, "gradientThickness": 14, "values": [-2, -1.5, -1, -0.5, 0, 0.5, 1, 1.5, 2], "format": ".1f",
                                                 "title": null, "labelFontSize": 9.5, "labelColor": "#555", "gradientStrokeColor": "#222", "gradientStrokeWidth": 1, "labelOffset": 3}}}},
              {"data": {"values": [{"x": 1.407, "y": 0.5, "s": "interaction score ratio\n(hybrid/parent)"}]},
               "mark": {"type": "text", "angle": 270, "align": "center", "baseline": "middle", "lineBreak": "\n", "lineHeight": 14, "fontSize": 10.5, "color": "#222"},
               "encoding": {"x": {"field": "x", "type": "quantitative"}, "y": {"field": "y", "type": "quantitative"}, "text": {"field": "s"}}},
              {"data": {"values": [{"x": 0.233, "y": 0.75, "s": "Scer Sem1--Suva Rpn1"}]}, "mark": {"type": "text", "fontSize": 11.5, "color": "#222", "baseline": "alphabetic"},
               "encoding": {"x": {"field": "x", "type": "quantitative"}, "y": {"field": "y", "type": "quantitative"}, "text": {"field": "s"}}},
              {"data": {"values": [{"x": 0.207, "y": 0.727, "y2": 0.688}]}, "mark": {"type": "rule", "color": "#222", "strokeWidth": 1},
               "encoding": {"x": {"field": "x", "type": "quantitative"}, "y": {"field": "y", "type": "quantitative"}, "y2": {"field": "y2"}}},
              {"data": {"values": [{"x": 0.207, "y": 0.686}]}, "mark": {"type": "point", "shape": "triangle-down", "size": 10, "filled": true, "color": "#222", "opacity": 1},
               "encoding": {"x": {"field": "x", "type": "quantitative"}, "y": {"field": "y", "type": "quantitative"}}},
              {"data": {"values": [{"x": -0.379, "y": 1.058, "s": "D"}]},
               "mark": {"type": "text", "align": "left", "baseline": "alphabetic", "fontSize": 14, "fontWeight": "bold", "color": "#111"},
               "encoding": {"x": {"field": "x", "type": "quantitative"}, "y": {"field": "y", "type": "quantitative"}, "text": {"field": "s"}}}
            ]
          }
        ]
      }
    ]
  },
  {
    "spacing": 0, "bounds": "flush",
    "resolve": {"scale": {"color": "independent", "fill": "independent", "size": "independent"}},
    "vconcat": [
      {"width": 1, "height": 39, "data": {"values": [{}]}, "mark": {"type": "point", "opacity": 0}, "view": {"stroke": null}},
      {
        "width": 138, "height": 707,
        "layer": [
          {"data": {"values": [{"a": -4, "b": -2}]}, "mark": {"type": "rect", "color": "#cde4f0"},
           "encoding": {"x": {"field": "a", "type": "quantitative", "scale": {"domain": [-4, 4], "nice": false},
                              "axis": {"values": [-4, -2, 0, 2, 4], "grid": true, "title": ["interaction score ratio", "(hybrid/parent)"]}},
                        "x2": {"field": "b"}}},
          {"data": {"values": [{"a": 2, "b": 4}]}, "mark": {"type": "rect", "color": "#eed6cf"},
           "encoding": {"x": {"field": "a", "type": "quantitative"}, "x2": {"field": "b"}}},
          {"data": {"values": [{"a": -2}]}, "mark": {"type": "rule", "color": "#a6d0e6", "strokeWidth": 1},
           "encoding": {"x": {"field": "a", "type": "quantitative"}}},
          {"data": {"values": [{"a": 2}]}, "mark": {"type": "rule", "color": "#dcb8ac", "strokeWidth": 1},
           "encoding": {"x": {"field": "a", "type": "quantitative"}}},
          {"data": {"name": "cpts"}, "mark": {"type": "circle", "size": 20, "opacity": 1},
           "encoding": {
             "x": {"field": "v", "type": "quantitative"},
             "y": {"field": "c", "type": "ordinal", "scale": {"type": "band", "paddingInner": 0, "paddingOuter": 0, "domain": [1,2,3,4,5,6,7,8,9,10,11,12,13,14,15,16,17,18,19,20,21,22]},
                   "axis": {"title": null, "grid": false, "labelFontSize": 10, "labelLineHeight": 11, "labelLimit": 400, "labelPadding": 3,
                            "labelExpr": "split(['', '6-phosphofructokinase|complex', 'Mitochondrial|2-oxoglutarate dehydrogenase|complex', 'Mitochondrial|pyruvate dehydrogenase|complex', 'HMC complex', '40S cytosolic small|ribosomal subunit', 'tRNA|(guanine-N(7)-)-methyltransferase', '60S cytosolic large|ribosomal subunit', 'Clathrin complex', 'F-actin capping|protein complex', 'COPI vesicle coat|complex', 'Ribonucleoside-diphosphate|reductase variant 1', 'Ribonucleoside-diphosphate|reductase variant 2', 'Methionyl glutamyl|tRNA synthetase complex', '26S Proteasome|complex', 'HAP1|transcriptional repressor complex|variant 2', 'Fatty-acyl-CoA|synthase', '54S mitochondrial|large ribosomal subunit', 'Eukaryotic|translation initiation factor 2|complex', 'TREX complex', 'Prefoldin complex', 'Arp2/3 complex', 'CDC48-RAD23-UFD2|complex'][datum.value], '|')",
                            "labelOffset": {"condition": [{"test": "indexof([2,3,15,18], datum.value) >= 0", "value": -10}, {"test": "indexof([4,8,19,20,21], datum.value) < 0", "value": -4.5}], "value": 0},
                            "labelColor": {"condition": [{"test": "indexof([1,2,3,4,14], datum.value) >= 0", "value": "#C0402A"}, {"test": "datum.value == 22", "value": "#2A8CC8"}], "value": "#444"}}},
             "yOffset": {"field": "o", "type": "quantitative", "scale": {"domain": [-3.65, 3.65], "nice": false, "zero": false}},
             "color": {"field": "t", "type": "nominal", "scale": {"domain": ["S", "V", "I"], "range": ["#E39C3A", "#4DAAD6", "#2F8869"]},
                       "legend": {"orient": "none", "legendX": 8, "legendY": -54.5, "title": null, "symbolType": "circle", "symbolSize": 45, "labelFontSize": 10, "rowPadding": 4.8, "labelOffset": 10,
                                  "labelExpr": "datum.label == 'S' ? 'Scer-intralogous PPIs' : datum.label == 'V' ? 'Suva-intralogous PPIs' : 'interlogous PPIs'"}}
           }},
          {"data": {"values": [{"c": 1, "o": -4.3, "s": "low"}]}, "mark": {"type": "text", "align": "left", "baseline": "alphabetic", "fontSize": 10.5, "color": "#1a1aff"},
           "encoding": {"x": {"datum": -4}, "y": {"field": "c", "type": "ordinal"}, "yOffset": {"field": "o", "type": "quantitative"}, "text": {"field": "s"}}},
          {"data": {"values": [{"c": 1, "o": -4.3, "s": "high"}]}, "mark": {"type": "text", "align": "right", "baseline": "alphabetic", "fontSize": 10.5, "color": "#ff1a1a"},
           "encoding": {"x": {"datum": 4}, "y": {"field": "c", "type": "ordinal"}, "yOffset": {"field": "o", "type": "quantitative"}, "text": {"field": "s"}}},
          {"data": {"values": [{"c": 1, "o": -4.79, "x": -10.78, "s": "C"}]}, "mark": {"type": "text", "align": "left", "baseline": "alphabetic", "fontSize": 14, "fontWeight": "bold", "color": "#111"},
           "encoding": {"x": {"field": "x", "type": "quantitative"}, "y": {"field": "c", "type": "ordinal"}, "yOffset": {"field": "o", "type": "quantitative"}, "text": {"field": "s"}}}
        ]
      }
    ]
  }
]
}
